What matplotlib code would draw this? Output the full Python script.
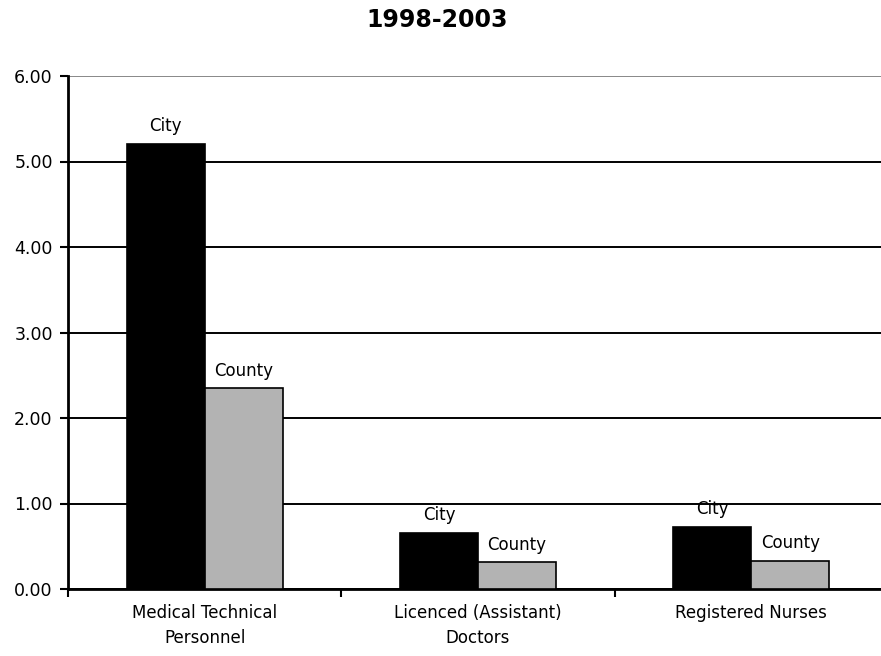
import matplotlib
matplotlib.use("Agg")
import matplotlib.pyplot as plt
import numpy as np

# data
categories = ["Medical Technical\nPersonnel", "Licenced (Assistant)\nDoctors", "Registered Nurses"]
series_names = ["City", "County"]
city = [5.21, 0.66, 0.73]
county = [2.35, 0.31, 0.33]
yticks = [0, 1, 2, 3, 4, 5, 6]

fig = plt.figure(figsize=(8.81, 6.56), dpi=100)
# axes runs past the right edge of the picture, as in the reference
ax = fig.add_axes([68 / 881, 67 / 656, 820 / 881, 513 / 656])

x = np.arange(len(categories)) + 0.5
w = 0.285
colors = ["black", "#b3b3b3"]
for vals, off, col, name in [(city, -w / 2, colors[0], series_names[0]),
                             (county, w / 2, colors[1], series_names[1])]:
    bars = ax.bar(x + off, vals, width=w, color=col, edgecolor="black",
                  linewidth=1.2, zorder=3)
    for b, v in zip(bars, vals):
        ax.text(b.get_x() + b.get_width() / 2, v + 0.1, name,
                ha="center", va="bottom", fontsize=12, zorder=4)

ax.set_xlim(0, len(categories))
ax.set_ylim(0, 6)
ax.set_yticks(yticks)
ax.set_yticklabels([f"{t:.2f}" for t in yticks], fontsize=12.5)
ax.yaxis.grid(True, color="black", linewidth=1.4)
ax.get_ygridlines()[-1].set_color("#888888")
ax.set_axisbelow(True)

# category labels between boundary ticks
ax.set_xticks(np.arange(len(categories) + 1))
ax.set_xticklabels([])
ax.set_xticks(x, minor=True)
ax.set_xticklabels(categories, minor=True, fontsize=12, linespacing=1.5)
ax.tick_params(axis="x", which="minor", length=0, pad=11)
ax.tick_params(axis="x", which="major", direction="out", length=6, width=1.5)
ax.tick_params(axis="y", direction="out", length=6, width=1.5, pad=5)

for s in ["top", "right"]:
    ax.spines[s].set_visible(False)
ax.spines["left"].set_linewidth(2)
ax.spines["bottom"].set_linewidth(2)

fig.text(437 / 881, 1 - 20 / 656, "1998-2003", ha="center", va="center",
         fontsize=17, fontweight="bold")

fig.savefig("out.png", dpi=100, facecolor="white")
